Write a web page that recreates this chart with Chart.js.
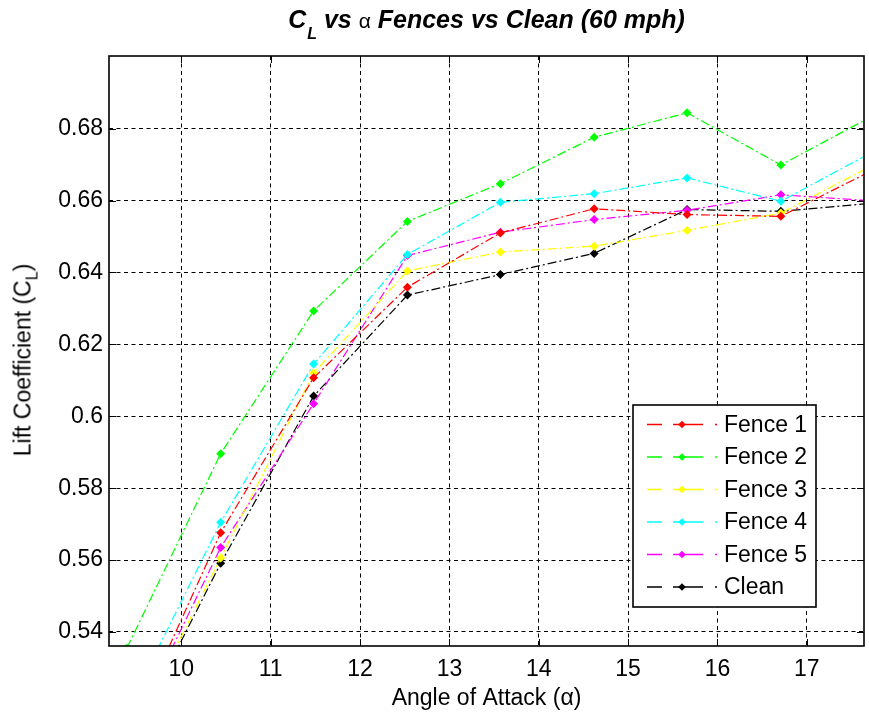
<!DOCTYPE html>
<html>
<head>
<meta charset="utf-8">
<script src="https://cdn.jsdelivr.net/npm/chart.js@4.4.1/dist/chart.umd.min.js"></script>
<style>
  body { margin: 0; background: #fff; }
  #wrap { position: relative; width: 869px; height: 716px; }
  #title {
    position: absolute; top: 7px; left: 109px; width: 755px;
    text-align: center; font: italic bold 25px/25px "Liberation Sans", Arial, sans-serif;
    color: #000; white-space: nowrap;
  }
  #title .sub { font-size: 16px; position: relative; top: 11px; margin-left: 1px; }
  #title .alpha { font-style: normal; font-weight: normal; font-size: 21px; }
  #ylabel {
    position: absolute; left: 24px; top: 360px;
    transform: translate(-50%, -50%) rotate(-90deg);
    font: 23px/23px "Liberation Sans", Arial, sans-serif; color: #000; white-space: nowrap;
  }
  #ylabel .sub { font-size: 16px; position: relative; top: 7px; }
</style>
</head>
<body>
<div id="wrap">
  <canvas id="chart" width="869" height="716"></canvas>
  <div id="title">C<span class="sub">L</span> vs <span class="alpha">α</span> Fences vs Clean (60 mph)</div>
  <div id="ylabel">Lift Coefficient (C<span class="sub">L</span>)</div>
</div>
<script>
"use strict";

// angle of attack (deg)
const alpha = [9.39, 10.44, 11.48, 12.53, 13.57, 14.62, 15.66, 16.71, 17.75];

const fence1 = [0.510, 0.5676, 0.6107, 0.6359, 0.6510, 0.6577, 0.6561, 0.6556, 0.6686];
const fence2 = [0.5355, 0.5896, 0.6293, 0.6542, 0.6647, 0.6776, 0.6844, 0.6699, 0.6837];
const fence3 = [0.5086, 0.5606, 0.6120, 0.6404, 0.6457, 0.6473, 0.6517, 0.6565, 0.6700];
const fence4 = [0.518, 0.5705, 0.6145, 0.6450, 0.6595, 0.6619, 0.6663, 0.6598, 0.6737];
const fence5 = [0.5095, 0.5635, 0.6035, 0.6447, 0.6512, 0.6547, 0.6573, 0.6616, 0.6599];
const clean = [0.5077, 0.5591, 0.6056, 0.6337, 0.6394, 0.6453, 0.6575, 0.6570, 0.6593];

const seriesNames = ["Fence 1", "Fence 2", "Fence 3", "Fence 4", "Fence 5", "Clean"];
const seriesColors = ["#ff0000", "#00ff00", "#ffff00", "#00ffff", "#ff00ff", "#000000"];

const xTicks = [10, 11, 12, 13, 14, 15, 16, 17];
const yTicks = [0.54, 0.56, 0.58, 0.6, 0.62, 0.64, 0.66, 0.68];

const FONT = '"Liberation Sans", Arial, sans-serif';

const datasets = [fence1, fence2, fence3, fence4, fence5, clean].map((vals, i) => ({
  label: seriesNames[i],
  data: vals.map((v, j) => ({ x: alpha[j], y: v })),
  borderColor: seriesColors[i],
  backgroundColor: seriesColors[i],
  borderWidth: 1.2,
  borderDash: [9, 3, 2, 3],
  pointStyle: "rectRot",
  pointRadius: 4.5,
  pointBorderWidth: 0,
  tension: 0,
}));

// frame, inward ticks and the boxed legend
const matlabAxes = {
  id: "matlabAxes",
  afterDatasetsDraw(chart) {
    const { ctx, chartArea: a, scales } = chart;
    const tl = 7;
    ctx.save();
    ctx.setLineDash([]);
    ctx.strokeStyle = "#000";
    ctx.lineWidth = 1;
    ctx.beginPath();
    scales.x.ticks.forEach((t) => {
      const px = Math.round(scales.x.getPixelForValue(t.value)) + 0.5;
      ctx.moveTo(px, a.bottom); ctx.lineTo(px, a.bottom - tl);
      ctx.moveTo(px, a.top); ctx.lineTo(px, a.top + tl);
    });
    scales.y.ticks.forEach((t) => {
      const py = Math.round(scales.y.getPixelForValue(t.value)) + 0.5;
      ctx.moveTo(a.left, py); ctx.lineTo(a.left + tl, py);
      ctx.moveTo(a.right, py); ctx.lineTo(a.right - tl, py);
    });
    ctx.stroke();
    ctx.lineWidth = 1.6;
    ctx.strokeRect(a.left, a.top, a.right - a.left, a.bottom - a.top);

    // legend box
    const bw = 183, bh = 202;
    const bx = a.right - 48 - bw;
    const by = a.bottom - 39 - bh;
    ctx.fillStyle = "#fff";
    ctx.fillRect(bx, by, bw, bh);
    ctx.lineWidth = 1.6;
    ctx.strokeRect(bx, by, bw, bh);
    ctx.font = "23px " + FONT;
    ctx.textBaseline = "middle";
    chart.data.datasets.forEach((ds, i) => {
      const cy = by + 19.5 + i * 32.5;
      const x0 = bx + 14;
      ctx.strokeStyle = ds.borderColor;
      ctx.lineWidth = 1.3;
      ctx.beginPath();
      ctx.moveTo(x0, cy); ctx.lineTo(x0 + 15, cy);
      ctx.moveTo(x0 + 26, cy); ctx.lineTo(x0 + 56, cy);
      ctx.moveTo(x0 + 68, cy); ctx.lineTo(x0 + 70, cy);
      ctx.stroke();
      const mx = x0 + 35, r = 3.8;
      ctx.fillStyle = ds.backgroundColor;
      ctx.beginPath();
      ctx.moveTo(mx, cy - r); ctx.lineTo(mx + r, cy); ctx.lineTo(mx, cy + r); ctx.lineTo(mx - r, cy);
      ctx.closePath();
      ctx.fill();
      ctx.fillStyle = "#000";
      ctx.fillText(ds.label, bx + 91, cy + 1);
    });
    ctx.restore();
  },
};

new Chart(document.getElementById("chart").getContext("2d"), {
  type: "line",
  data: { datasets },
  plugins: [matlabAxes],
  options: {
    responsive: false,
    animation: false,
    layout: { padding: { top: 56, right: 5, bottom: 0, left: 0 } },
    plugins: { legend: { display: false }, title: { display: false }, tooltip: { enabled: false } },
    scales: {
      x: {
        type: "linear",
        min: 9.19,
        max: 17.64,
        afterBuildTicks: (s) => { s.ticks = xTicks.map((v) => ({ value: v })); },
        afterFit: (s) => { s.height = 70; },
        ticks: { color: "#000", font: { family: FONT, size: 23 }, padding: 10, maxRotation: 0 },
        grid: { color: "#000", lineWidth: 1, drawTicks: false, borderDash: [4, 3.5] },
        border: { display: false, dash: [4, 3.5] },
        title: {
          display: true,
          text: "Angle of Attack (α)",
          color: "#000",
          font: { family: FONT, size: 23 },
          padding: { top: 0, bottom: 4 },
        },
      },
      y: {
        type: "linear",
        min: 0.5361,
        max: 0.7002,
        afterBuildTicks: (s) => { s.ticks = yTicks.map((v) => ({ value: v })); },
        afterFit: (s) => { s.width = 109; },
        ticks: {
          color: "#000",
          font: { family: FONT, size: 23 },
          padding: 6,
          callback: (v) => String(Number(v.toFixed(2))),
        },
        grid: { color: "#000", lineWidth: 1, drawTicks: false, borderDash: [4, 3.5] },
        border: { display: false, dash: [4, 3.5] },
      },
    },
  },
});
</script>
</body>
</html>
